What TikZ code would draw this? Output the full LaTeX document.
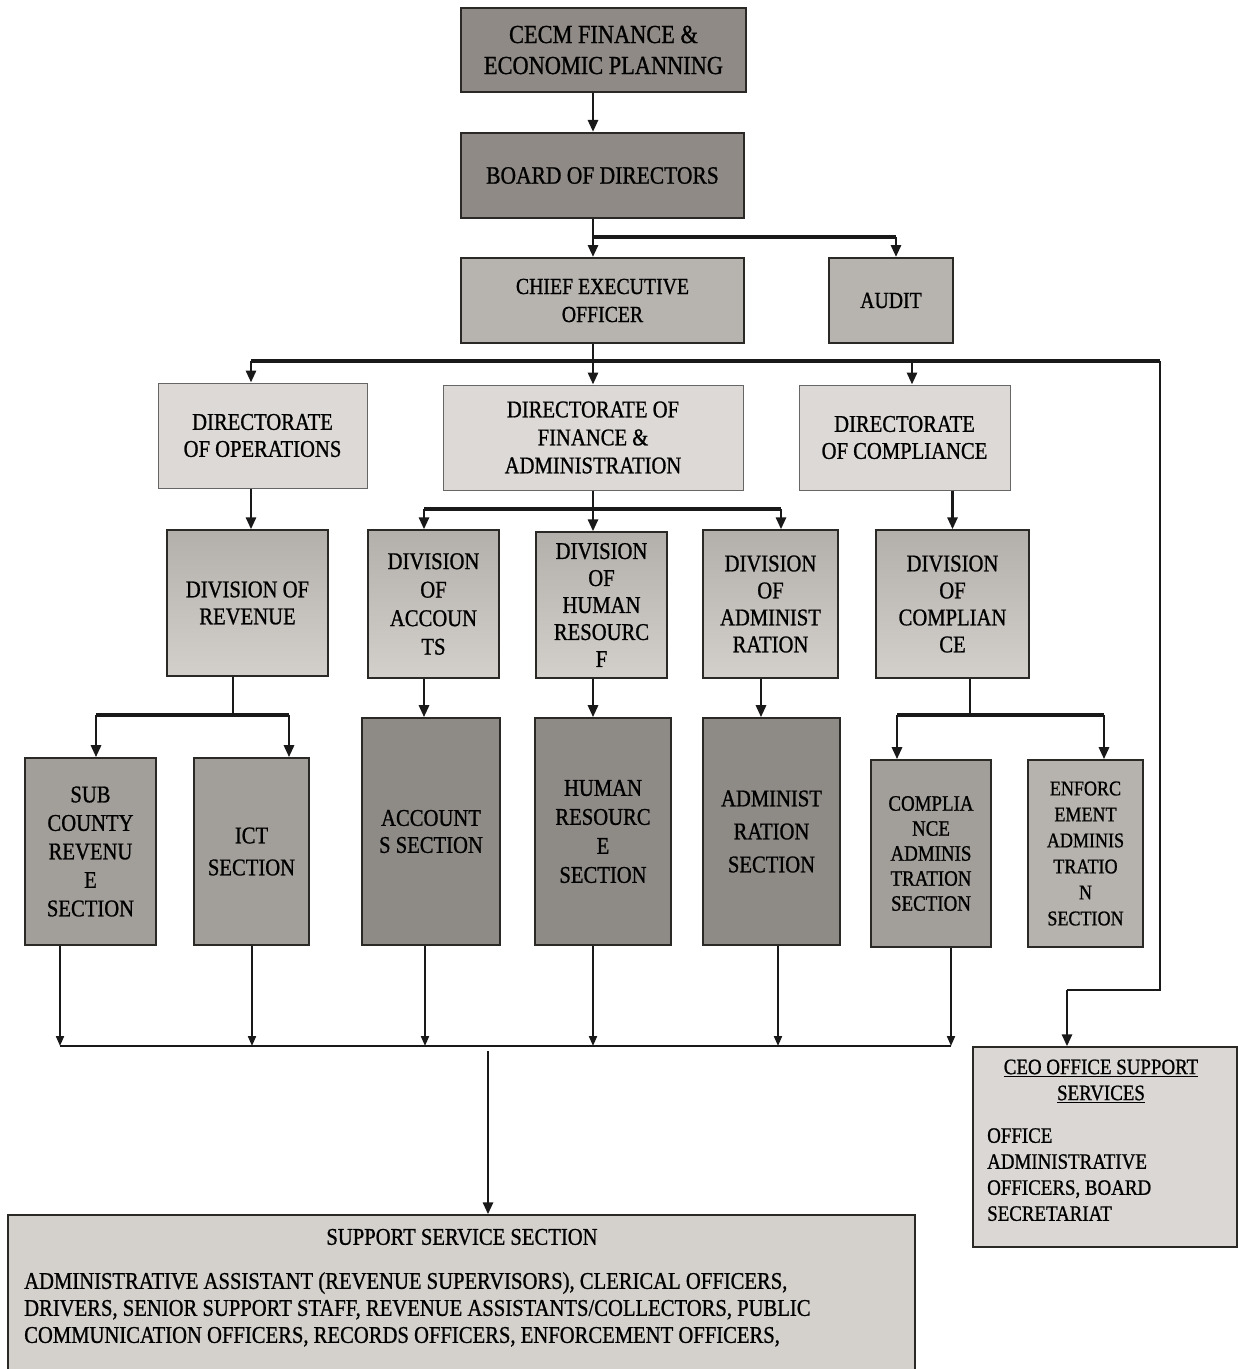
\documentclass[tikz,border=0pt]{standalone}
\usepackage{fontspec}
\setmainfont{Liberation Serif}[FakeStretch=0.86,FakeBold=0.9]
\usetikzlibrary{arrows.meta,calc}

\definecolor{topgrey}{HTML}{8F8A85}
\definecolor{ceogrey}{HTML}{B7B3AF}
\definecolor{dirgrey}{HTML}{DCD9D6}
\definecolor{divtop}{HTML}{B3AFAA}
\definecolor{divbot}{HTML}{D3D0CC}
\definecolor{secgrey}{HTML}{8E8A86}
\definecolor{secmid}{HTML}{A29E99}
\definecolor{seclight}{HTML}{B6B2AD}
\definecolor{supgrey}{HTML}{D4D1CD}
\definecolor{offgrey}{HTML}{DAD7D4}
\definecolor{edge}{HTML}{2B2926}

\begin{document}
\begin{tikzpicture}[x=1pt,y=-1pt,
  box/.style={draw=edge, line width=1.6pt, align=center, inner sep=0pt,
              font=\fontsize{24}{27}\selectfont},
  topbox/.style={box, fill=topgrey, line width=2.2pt},
  midbox/.style={box, fill=ceogrey, line width=2pt},
  dirbox/.style={box, fill=dirgrey, line width=1pt, draw=black!60},
  divbox/.style={box, top color=divtop, bottom color=divbot, line width=1.4pt},
  secbox/.style={box, fill=secgrey, line width=1.6pt, font=\fontsize{24}{28.5}\selectfont},
  conn/.style={line width=2.8pt, draw=black!90},
  bus/.style={line width=3.4pt, draw=black!90},
  thin/.style={line width=2pt, draw=black!90},
  arr/.style={conn, -{Triangle[length=12pt,width=10pt]}},
  thinarr/.style={thin, -{Triangle[length=10pt,width=8pt]}}
]
\useasboundingbox (0,0) rectangle (1238,1369);
\clip (0,0) rectangle (1238,1369);
\fill[white] (0,0) rectangle (1238,1369);

% ---------- top of the hierarchy ----------
\node[topbox, minimum width=285, minimum height=84, font=\fontsize{26}{31}\selectfont]
  (cecm) at (603.5,50) {CECM FINANCE \&\\ECONOMIC PLANNING};
\node[topbox, minimum width=283, minimum height=85, font=\fontsize{25}{30}\selectfont]
  (board) at (602.5,175.5) {BOARD OF DIRECTORS};
\node[midbox, minimum width=283, minimum height=85, font=\fontsize{23}{28}\selectfont]
  (ceo) at (602.5,300.5) {CHIEF EXECUTIVE\\OFFICER};
\node[midbox, minimum width=124, minimum height=85, font=\fontsize{23}{28}\selectfont]
  (audit) at (891,300.5) {AUDIT};

% ---------- directorates ----------
\node[dirbox, minimum width=209, minimum height=105] (dops) at (262.5,435.5)
  {DIRECTORATE\\OF OPERATIONS};
\node[dirbox, minimum width=300, minimum height=105, font=\fontsize{24}{28}\selectfont]
  (dfa) at (593,437.5) {DIRECTORATE OF\\FINANCE \&\\ADMINISTRATION};
\node[dirbox, minimum width=211, minimum height=105] (dcomp) at (904.5,437.5)
  {DIRECTORATE\\OF COMPLIANCE};

% ---------- divisions ----------
\node[divbox, minimum width=161, minimum height=146] (divrev) at (247.5,603)
  {DIVISION OF\\REVENUE};
\node[divbox, minimum width=131, minimum height=148, font=\fontsize{24}{28.5}\selectfont]
  (divacc) at (433.5,604) {DIVISION\\OF\\ACCOUN\\TS};
\node[divbox, minimum width=131, minimum height=146] (divhr) at (601.5,605)
  {DIVISION\\OF\\HUMAN\\RESOURC\\F};
\node[divbox, minimum width=135, minimum height=148] (divadm) at (770.5,604)
  {DIVISION\\OF\\ADMINIST\\RATION};
\node[divbox, minimum width=153, minimum height=148] (divcomp) at (952.5,604)
  {DIVISION\\OF\\COMPLIAN\\CE};

% ---------- sections ----------
\node[secbox, fill=secmid, minimum width=131, minimum height=187] (subc) at (90.5,851.5)
  {SUB\\COUNTY\\REVENU\\E\\SECTION};
\node[secbox, fill=secmid, minimum width=115, minimum height=187, font=\fontsize{24}{32}\selectfont]
  (ict) at (251.5,851.5) {ICT\\SECTION};
\node[secbox, minimum width=138, minimum height=227, font=\fontsize{24}{27}\selectfont]
  (accs) at (431,831.5) {ACCOUNT\\S SECTION};
\node[secbox, minimum width=136, minimum height=227, font=\fontsize{24}{29}\selectfont]
  (hrs) at (603,831.5) {HUMAN\\RESOURC\\E\\SECTION};
\node[secbox, minimum width=137, minimum height=227, font=\fontsize{24}{33}\selectfont]
  (adms) at (771.5,831.5) {ADMINIST\\RATION\\SECTION};
\node[secbox, fill=secmid, minimum width=120, minimum height=187, font=\fontsize{22}{25}\selectfont]
  (comps) at (931,853.5) {COMPLIA\\NCE\\ADMINIS\\TRATION\\SECTION};
\node[secbox, fill=seclight, minimum width=115, minimum height=187, font=\fontsize{21}{26}\selectfont]
  (enfs) at (1085.5,853.5) {ENFORC\\EMENT\\ADMINIS\\TRATIO\\N\\SECTION};

% ---------- support boxes ----------
\node[box, fill=supgrey, line width=1.4pt, minimum width=907, minimum height=175]
  (support) at (461.5,1302.5) {};
\node[font=\fontsize{24}{27}\selectfont, inner sep=0pt] (suphead) at (462,1237)
  {SUPPORT SERVICE SECTION};
\node[font=\fontsize{24}{27}\selectfont, align=left, anchor=north west, inner sep=0pt]
  (supbody) at (24,1272)
  {ADMINISTRATIVE ASSISTANT (REVENUE SUPERVISORS), CLERICAL OFFICERS,\\
   DRIVERS, SENIOR SUPPORT STAFF, REVENUE ASSISTANTS/COLLECTORS, PUBLIC\\
   COMMUNICATION OFFICERS, RECORDS OFFICERS, ENFORCEMENT OFFICERS,};

\node[box, fill=offgrey, line width=1.4pt, minimum width=264, minimum height=200]
  (ceooff) at (1105,1147) {};
\node[font=\fontsize{22}{26}\selectfont, align=center, inner sep=0pt] (offhead) at (1101,1081)
  {\underline{CEO OFFICE SUPPORT}\\\underline{SERVICES}};
\node[font=\fontsize{22}{26}\selectfont, align=left, anchor=north west, inner sep=0pt]
  (offbody) at (987,1128)
  {OFFICE\\ADMINISTRATIVE\\OFFICERS, BOARD\\SECRETARIAT};

% ---------- junction points ----------
\coordinate (j1) at (593,237);
\coordinate (j2) at (593,361);
\coordinate (j3) at (593,509);
\coordinate (busL) at (251,361);
\coordinate (busR) at (1160,361);
\coordinate (cx) at (912,361);
\coordinate (turn) at (1160,990);
\coordinate (ox) at (1067,990);
\coordinate (fL) at (424,509);
\coordinate (fR) at (781,509);
\coordinate (dx) at (761,700);
\coordinate (rv) at (233,715);
\coordinate (rvL) at (96,715);
\coordinate (rvR) at (289,715);
\coordinate (cv) at (970,715);
\coordinate (cvL) at (897,715);
\coordinate (cvR) at (1104,715);
\coordinate (d1) at (60,1046);
\coordinate (d2) at (252,1046);
\coordinate (d3) at (425,1046);
\coordinate (d4) at (593,1046);
\coordinate (d5) at (778,1046);
\coordinate (d6) at (951,1046);
\coordinate (dm) at (488,1051);

% ---------- connectors ----------
\draw[arr] (cecm.south -| j1) -- (board.north -| j1);
\draw[conn] (board.south -| j1) -- (j1);
\draw[bus] (j1) -- (j1 -| audit.north) -- ++(5,0);
\draw[arr] (j1) -- (ceo.north -| j1);
\draw[arr] ([xshift=5]j1 -| audit.north) -- ([xshift=5]audit.north);

\draw[conn] (ceo.south -| j2) -- (j2);
\draw[bus] (busL) -- (busR);
\draw[arr] (busL) -- (busL |- dops.north);
\draw[arr] (j2) -- (dfa.north -| j2);
\draw[arr] (cx) -- (cx |- dcomp.north);
\draw[conn] (busR) -- (turn) -- (ox);
\draw[arr] (ox) -- (ox |- ceooff.north);

\draw[arr] (busL |- dops.south) -- (busL |- divrev.north);
\draw[conn] (dfa.south -| j3) -- (j3);
\draw[bus] (fL) -- (fR);
\draw[arr] (fL) -- (fL |- divacc.north);
\draw[arr] (j3) -- (j3 |- divhr.north);
\draw[arr] (fR) -- (fR |- divadm.north);
\draw[arr] (dcomp.south -| divcomp.north) -- (divcomp.north);

\draw[conn] (divrev.south -| rv) -- (rv);
\draw[bus] (rvL) -- (rvR);
\draw[arr] (rvL) -- (rvL |- subc.north);
\draw[arr] (rvR) -- (rvR |- ict.north);
\draw[arr] (fL |- divacc.south) -- (fL |- accs.north);
\draw[arr] (j3 |- divhr.south) -- (j3 |- hrs.north);
\draw[arr] (dx |- divadm.south) -- (dx |- adms.north);
\draw[conn] (divcomp.south -| cv) -- (cv);
\draw[bus] (cvL) -- (cvR);
\draw[arr] (cvL) -- (cvL |- comps.north);
\draw[arr] (cvR) -- (cvR |- enfs.north);

\draw[thinarr] (d1 |- subc.south) -- (d1);
\draw[thinarr] (d2 |- ict.south) -- (d2);
\draw[thinarr] (d3 |- accs.south) -- (d3);
\draw[thinarr] (d4 |- hrs.south) -- (d4);
\draw[thinarr] (d5 |- adms.south) -- (d5);
\draw[thinarr] (d6 |- comps.south) -- (d6);
\draw[conn] (d1) -- (d6);
\draw[arr] (dm) -- (dm |- support.north);
\end{tikzpicture}
\end{document}
